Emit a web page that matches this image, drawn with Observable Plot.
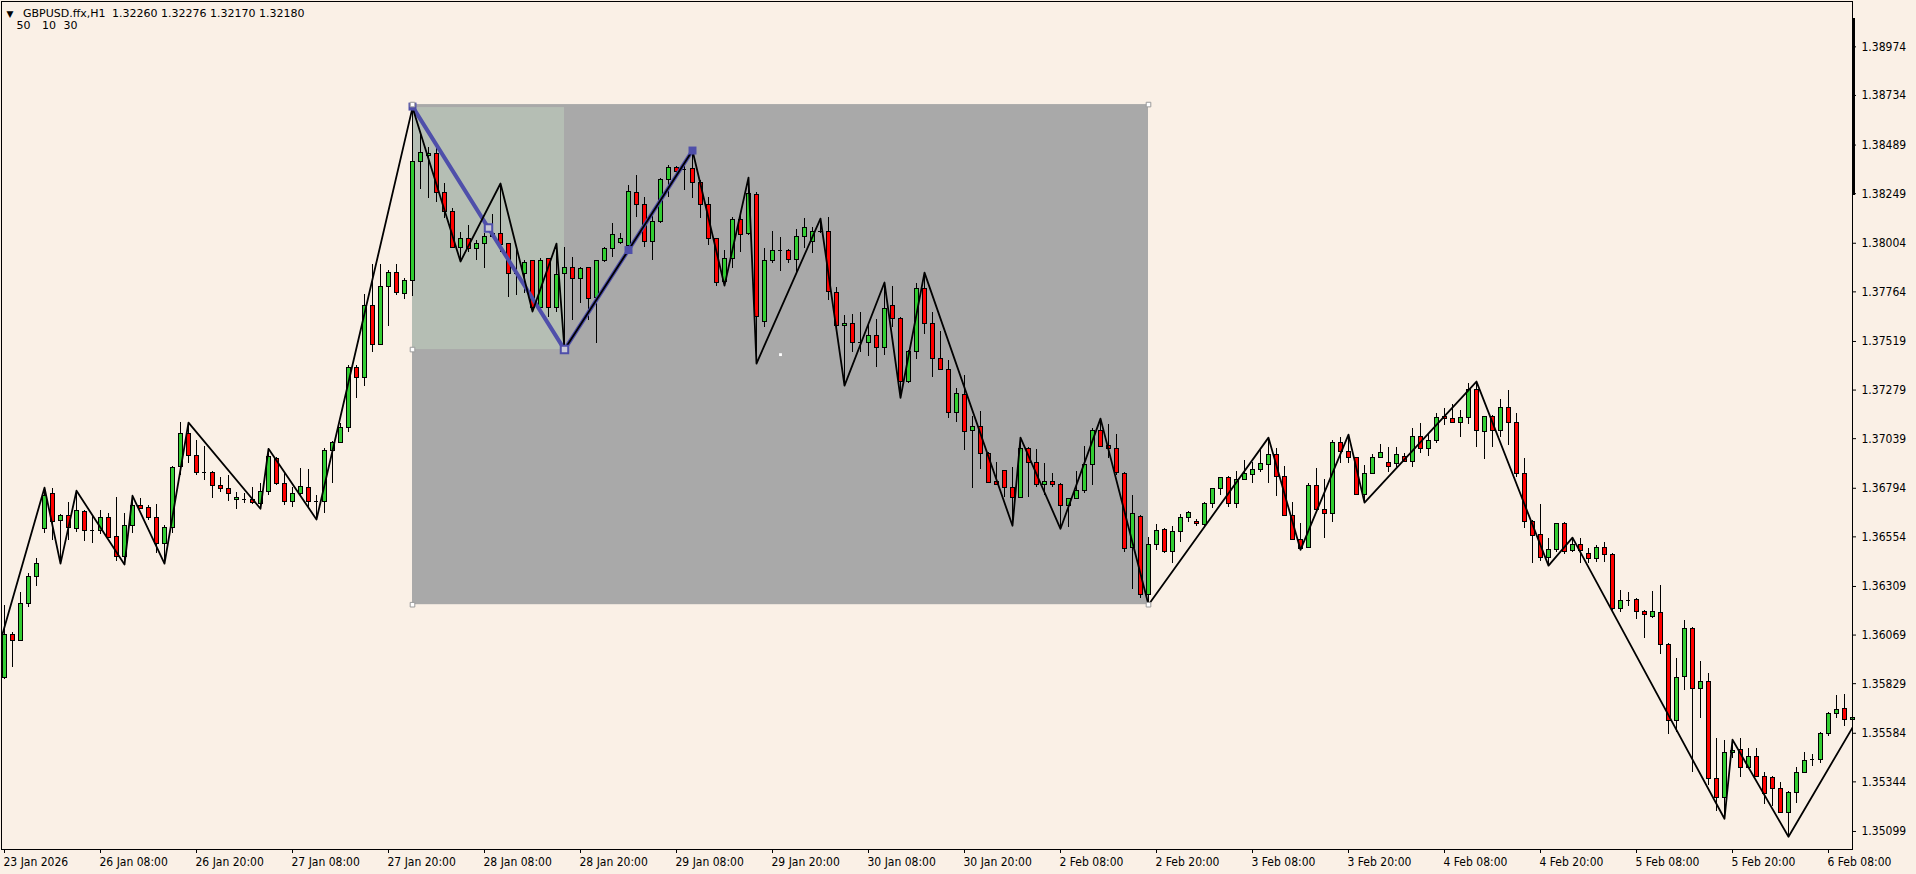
<!DOCTYPE html>
<html><head><meta charset="utf-8">
<script src="https://cdn.jsdelivr.net/npm/d3@7"></script>
<script src="https://cdn.jsdelivr.net/npm/@observablehq/plot@0.6"></script>
<style>
html,body{margin:0;padding:0;background:#FAF0E6;overflow:hidden;}
#chart{position:absolute;left:0;top:0;}
</style></head><body><div id="chart"></div>
<script>
// ---- data (GBPUSD H1) ----
const openP = [
1.35858,1.36071,1.36041,1.36224,1.36357,1.36594,1.36767,1.36634,1.36659,1.36594,
1.36679,1.36585,1.36585,1.36649,1.36555,1.36456,1.36609,1.36708,1.36698,1.36649,
1.36520,1.36599,1.36901,1.37064,1.36955,1.36871,1.36871,1.36807,1.36788,1.36738,
1.36738,1.36738,1.36718,1.36777,1.36940,1.36817,1.36728,1.36767,1.36797,1.36728,
1.36728,1.36980,1.37019,1.37093,1.37390,1.37340,1.37696,1.37503,1.37790,1.37859,
1.37755,1.37820,1.38403,1.38437,1.38447,1.38254,1.38156,1.37982,1.38023,1.37977,
1.38002,1.38037,1.38052,1.38002,1.37854,1.37854,1.37914,1.37686,1.37924,1.37686,
1.37854,1.37884,1.37829,1.37884,1.37735,1.37914,1.37977,1.38007,1.37992,1.38254,
1.38195,1.38012,1.38111,1.38314,1.38378,1.38369,1.38369,1.38304,1.38195,1.38023,
1.37815,1.37928,1.38121,1.38052,1.38244,1.37617,1.37914,1.37968,1.37968,1.37919,
1.38037,1.38012,1.38062,1.38062,1.37760,1.37597,1.37607,1.37513,1.37513,1.37548,
1.37488,1.37696,1.37632,1.37321,1.37469,1.37780,1.37607,1.37430,1.37380,1.37168,
1.37256,1.37079,1.37098,1.36965,1.36827,1.36881,1.36797,1.36747,1.36989,1.36921,
1.36812,1.36827,1.36812,1.36708,1.36742,1.36782,1.36911,1.37079,1.37004,1.36989,
1.36866,1.36500,1.36654,1.36268,1.36515,1.36590,1.36481,1.36580,1.36649,1.36629,
1.36614,1.36718,1.36788,1.36846,1.36718,1.36837,1.36861,1.36886,1.36911,1.36960,
1.36851,1.36659,1.36540,1.36500,1.36807,1.36689,1.36669,1.37019,1.36975,1.36945,
1.36762,1.36866,1.36945,1.36921,1.36916,1.36950,1.36926,1.37049,1.36989,1.37029,
1.37148,1.37138,1.37118,1.37143,1.37281,1.37074,1.37148,1.37079,1.37188,1.37118,
1.36866,1.36629,1.36565,1.36451,1.36490,1.36619,1.36486,1.36515,1.36471,1.36446,
1.36500,1.36466,1.36199,1.36239,1.36244,1.36185,1.36160,1.36180,1.36021,1.35646,
1.35863,1.36101,1.35804,1.35839,1.35360,1.35266,1.35488,1.35503,1.35414,1.35469,
1.35370,1.35365,1.35310,1.35192,1.35291,1.35389,1.35454,1.35454,1.35582,1.35681,
1.35705,1.35651];
const highP = [
1.36214,1.36081,1.36278,1.36372,1.36446,1.36797,1.36792,1.36664,1.36723,1.36782,
1.36684,1.36659,1.36684,1.36669,1.36747,1.36669,1.36757,1.36742,1.36708,1.36713,
1.36609,1.36901,1.37118,1.37118,1.37029,1.36999,1.36876,1.36846,1.36856,1.36772,
1.36767,1.36797,1.36817,1.36989,1.36945,1.36866,1.36797,1.36891,1.36886,1.36757,
1.36989,1.37024,1.37113,1.37400,1.37400,1.37750,1.37899,1.37899,1.37869,1.37899,
1.37829,1.38674,1.38541,1.38476,1.38471,1.38299,1.38175,1.38057,1.38091,1.38017,
1.38052,1.38146,1.38299,1.38002,1.37968,1.37919,1.37919,1.37928,1.37928,1.38002,
1.37982,1.37933,1.37884,1.37884,1.37919,1.37982,1.38101,1.38052,1.38289,1.38338,
1.38229,1.38151,1.38323,1.38388,1.38383,1.38403,1.38462,1.38314,1.38229,1.38027,
1.37968,1.38131,1.38151,1.38328,1.38254,1.37977,1.38062,1.38032,1.37973,1.38072,
1.38126,1.38081,1.38126,1.38131,1.37785,1.37647,1.37652,1.37662,1.37607,1.37628,
1.37810,1.37790,1.37637,1.37474,1.37805,1.37859,1.37662,1.37568,1.37425,1.37286,
1.37350,1.37148,1.37173,1.36970,1.36921,1.36881,1.36896,1.37044,1.36994,1.36984,
1.36916,1.36866,1.36817,1.36742,1.36876,1.36999,1.37088,1.37138,1.37108,1.37059,
1.36871,1.36757,1.36659,1.36550,1.36614,1.36594,1.36604,1.36664,1.36679,1.36640,
1.36723,1.36792,1.36846,1.36851,1.36876,1.36931,1.36921,1.36989,1.37044,1.36989,
1.36901,1.36723,1.36619,1.36817,1.36891,1.36837,1.37029,1.37044,1.37059,1.36945,
1.36906,1.36960,1.37009,1.36994,1.36994,1.36965,1.37088,1.37113,1.37064,1.37163,
1.37188,1.37207,1.37178,1.37311,1.37321,1.37148,1.37153,1.37232,1.37276,1.37163,
1.36940,1.36634,1.36713,1.36545,1.36619,1.36624,1.36550,1.36545,1.36495,1.36510,
1.36525,1.36471,1.36288,1.36278,1.36249,1.36190,1.36283,1.36313,1.36026,1.35953,
1.36140,1.36106,1.35938,1.35878,1.35557,1.35547,1.35552,1.35557,1.35508,1.35508,
1.35389,1.35370,1.35340,1.35296,1.35414,1.35488,1.35478,1.35587,1.35686,1.35770,
1.35775,1.35705];
const lowP = [
1.35849,1.35908,1.36035,1.36204,1.36308,1.36570,1.36535,1.36422,1.36535,1.36575,
1.36530,1.36520,1.36565,1.36545,1.36432,1.36417,1.36570,1.36689,1.36634,1.36471,
1.36422,1.36570,1.36856,1.36916,1.36856,1.36832,1.36742,1.36772,1.36728,1.36689,
1.36718,1.36713,1.36693,1.36757,1.36807,1.36708,1.36698,1.36757,1.36693,1.36640,
1.36669,1.36817,1.37014,1.37069,1.37236,1.37296,1.37464,1.37498,1.37592,1.37745,
1.37726,1.37740,1.38270,1.38224,1.38205,1.38126,1.37977,1.37914,1.37958,1.37919,
1.37879,1.38032,1.37958,1.37735,1.37745,1.37755,1.37667,1.37672,1.37637,1.37662,
1.37479,1.37622,1.37706,1.37622,1.37508,1.37909,1.37933,1.37997,1.37953,1.38131,
1.37982,1.37919,1.38101,1.38229,1.38338,1.38264,1.38224,1.38126,1.37992,1.37790,
1.37795,1.37879,1.37958,1.38042,1.37410,1.37587,1.37904,1.37864,1.37904,1.37859,
1.37977,1.37953,1.38052,1.37721,1.37587,1.37301,1.37464,1.37464,1.37444,1.37390,
1.37449,1.37587,1.37241,1.37311,1.37430,1.37553,1.37340,1.37375,1.37138,1.37118,
1.36980,1.36792,1.36886,1.36817,1.36807,1.36747,1.36609,1.36742,1.36747,1.36797,
1.36757,1.36797,1.36594,1.36599,1.36742,1.36767,1.36807,1.36994,1.36940,1.36856,
1.36476,1.36293,1.36249,1.36219,1.36486,1.36471,1.36422,1.36525,1.36624,1.36604,
1.36599,1.36693,1.36757,1.36698,1.36693,1.36832,1.36817,1.36871,1.36817,1.36752,
1.36654,1.36540,1.36490,1.36495,1.36674,1.36545,1.36624,1.36916,1.36916,1.36757,
1.36723,1.36861,1.36940,1.36871,1.36896,1.36921,1.36896,1.36965,1.36950,1.37014,
1.37103,1.37113,1.37044,1.37108,1.36994,1.36936,1.36994,1.37044,1.37004,1.36846,
1.36594,1.36422,1.36432,1.36412,1.36476,1.36466,1.36476,1.36422,1.36422,1.36427,
1.36427,1.36190,1.36180,1.36209,1.36145,1.36051,1.36150,1.35972,1.35577,1.35587,
1.35794,1.35389,1.35656,1.35325,1.35197,1.35162,1.35459,1.35365,1.35409,1.35365,
1.35231,1.35221,1.35192,1.35073,1.35236,1.35384,1.35419,1.35434,1.35567,1.35656,
1.35617,1.35572];
const closeP = [
1.36071,1.36041,1.36224,1.36357,1.36422,1.36757,1.36629,1.36659,1.36599,1.36684,
1.36585,1.36585,1.36649,1.36550,1.36456,1.36609,1.36708,1.36693,1.36649,1.36520,
1.36599,1.36896,1.37064,1.36955,1.36871,1.36871,1.36807,1.36792,1.36767,1.36747,
1.36738,1.36723,1.36777,1.36950,1.36817,1.36728,1.36767,1.36802,1.36728,1.36728,
1.36980,1.37019,1.37093,1.37390,1.37340,1.37696,1.37503,1.37790,1.37859,1.37760,
1.37820,1.38403,1.38452,1.38447,1.38254,1.38156,1.37982,1.38023,1.37977,1.38002,
1.38037,1.38052,1.37997,1.37854,1.37854,1.37909,1.37686,1.37914,1.37686,1.37849,
1.37884,1.37829,1.37879,1.37730,1.37914,1.37977,1.38047,1.38023,1.38259,1.38195,
1.38012,1.38111,1.38314,1.38378,1.38358,1.38369,1.38304,1.38195,1.38023,1.37810,
1.37928,1.38121,1.38047,1.38249,1.37642,1.37914,1.37968,1.37968,1.37919,1.38037,
1.38081,1.38062,1.38062,1.37765,1.37597,1.37607,1.37513,1.37513,1.37548,1.37488,
1.37681,1.37632,1.37321,1.37469,1.37780,1.37607,1.37430,1.37380,1.37168,1.37261,
1.37074,1.37098,1.36965,1.36822,1.36812,1.36797,1.36747,1.36989,1.36921,1.36812,
1.36827,1.36812,1.36708,1.36742,1.36782,1.36911,1.37079,1.36999,1.36989,1.36871,
1.36495,1.36669,1.36268,1.36515,1.36585,1.36481,1.36580,1.36649,1.36674,1.36619,
1.36718,1.36788,1.36846,1.36718,1.36837,1.36866,1.36886,1.36916,1.36960,1.36851,
1.36659,1.36540,1.36495,1.36807,1.36689,1.36669,1.37019,1.36975,1.36945,1.36762,
1.36866,1.36945,1.36970,1.36901,1.36960,1.36926,1.37049,1.36989,1.37029,1.37143,
1.37138,1.37118,1.37143,1.37281,1.37079,1.37148,1.37079,1.37188,1.37118,1.36866,
1.36629,1.36560,1.36451,1.36490,1.36619,1.36481,1.36515,1.36486,1.36446,1.36500,
1.36466,1.36199,1.36239,1.36239,1.36185,1.36170,1.36185,1.36021,1.35646,1.35858,
1.36101,1.35804,1.35839,1.35360,1.35266,1.35488,1.35498,1.35414,1.35469,1.35370,
1.35286,1.35310,1.35192,1.35291,1.35389,1.35449,1.35454,1.35582,1.35681,1.35701,
1.35651,1.35661];

// zigzag indicator vertices (bar index, price)
const zigzagIndex = [-3,5,7,9,15,16,20,23,32,33,39,51,57,62,66,69,70,86,90,93,94,102,105,110,112,115,126,127,132,137,143,158,162,168,170,184,193,196,215,216,223,231];
const zigzagPrice = [1.35696,1.36797,1.36422,1.36782,1.36417,1.36757,1.36422,1.37118,1.36693,1.36989,1.36640,1.38674,1.37914,1.38299,1.37667,1.38002,1.37479,1.38462,1.37795,1.38328,1.37410,1.38126,1.37301,1.37810,1.37241,1.37859,1.36609,1.37044,1.36594,1.37138,1.36219,1.37044,1.36490,1.37059,1.36723,1.37321,1.36412,1.36550,1.35162,1.35552,1.35073,1.35612];

// drawn objects
const trendIndex = [51, 70, 86];
const trendPrice = [1.38679, 1.37479, 1.38462];
const rectIndex = [51, 143];
const rectPrice = [1.38689, 1.36219];
const innerRectIndex = [51, 70];
const innerRectPrice = [1.38674, 1.37479];
const cursorIndex = [97];
const cursorPrice = [1.37454];
const scaleBarPrice = [1.39114, 1.38240];

// axes
const yTicks = [1.38974,1.38734,1.38489,1.38249,1.38004,1.37764,1.37519,1.37279,1.37039,1.36794,1.36554,1.36309,1.36069,1.35829,1.35584,1.35344,1.35099];
const xTickIndex = [0,12,24,36,48,60,72,84,96,108,120,132,144,156,168,180,192,204,216,228];
const xTickLabels = ["23 Jan 2026","26 Jan 08:00","26 Jan 20:00","27 Jan 08:00","27 Jan 20:00","28 Jan 08:00","28 Jan 20:00","29 Jan 08:00","29 Jan 20:00","30 Jan 08:00","30 Jan 20:00","2 Feb 08:00","2 Feb 20:00","3 Feb 08:00","3 Feb 20:00","4 Feb 08:00","4 Feb 20:00","5 Feb 08:00","5 Feb 20:00","6 Feb 08:00"];
const headerSymbol = "GBPUSD.ffx,H1";
const headerQuotes = "1.32260 1.32276 1.32170 1.32180";
const headerParams = ["50", "10", "30"];

// ---- build ----
const candles = openP.map((o, i) => ({i, open: o, high: highP[i], low: lowP[i], close: closeP[i]}));
const bulls = candles.filter(d => d.close > d.open);
const bears = candles.filter(d => d.close < d.open);
const dojis = candles.filter(d => d.close === d.open);
const zigzag = zigzagIndex.map((x, k) => ({x, y: zigzagPrice[k]}));
const trend = trendIndex.map((x, k) => ({x, y: trendPrice[k]}));
const mid = (a, b) => ({x: (a.x + b.x) / 2, y: (a.y + b.y) / 2});
const outerRect = [{x1: rectIndex[0], x2: rectIndex[1], y1: rectPrice[0], y2: rectPrice[1]}];
const innerRect = [{x1: innerRectIndex[0], x2: innerRectIndex[1], y1: innerRectPrice[0], y2: innerRectPrice[1]}];
const rectCorners = [
  {x: rectIndex[0], y: rectPrice[0]}, {x: rectIndex[1], y: rectPrice[0]},
  {x: rectIndex[0], y: rectPrice[1]}, {x: rectIndex[1], y: rectPrice[1]},
  {x: innerRectIndex[0], y: innerRectPrice[1]}
];
const handlesFilled = [trend[0], mid(trend[1], trend[2]), trend[2]];
const handlesOpen = [mid(trend[0], trend[1]), trend[1]];
const hw = 0.25;
const FONT = "'DejaVu Sans Condensed','DejaVu Sans',sans-serif";
const headerStyle = {frameAnchor: "top-left", textAnchor: "start", lineAnchor: "bottom", fontSize: 11, fontFamily: "DejaVu Sans", fill: "black"};
const paramOffsets = [15, 40.5, 62];

const chart = Plot.plot({
  width: 1916, height: 874,
  marginLeft: 1, marginRight: 64, marginTop: 1, marginBottom: 25,
  style: {background: "#FAF0E6", fontFamily: FONT, fontSize: "12px", color: "#000", overflow: "visible"},
  x: {type: "linear", domain: [-0.375, 231], axis: null},
  y: {type: "linear", domain: [1.35010, 1.39198], axis: null},
  marks: [
    Plot.rect(outerRect, {x1: "x1", x2: "x2", y1: "y1", y2: "y2", fill: "#A9A9A9"}),
    Plot.rect(innerRect, {x1: "x1", x2: "x2", y1: "y1", y2: "y2", fill: "#B5BEB4"}),
    Plot.ruleX(candles, {x: "i", y1: "low", y2: "high", stroke: "black", strokeWidth: 1, shapeRendering: "crispEdges"}),
    Plot.rect(bulls, {x1: d => d.i - hw, x2: d => d.i + hw, y1: "open", y2: "close", fill: "#32CD32", stroke: "black", strokeWidth: 1, shapeRendering: "crispEdges"}),
    Plot.rect(bears, {x1: d => d.i - hw, x2: d => d.i + hw, y1: "open", y2: "close", fill: "#FF0000", stroke: "black", strokeWidth: 1, shapeRendering: "crispEdges"}),
    Plot.ruleY(dojis, {y: "open", x1: d => d.i - hw, x2: d => d.i + hw, stroke: "black", strokeWidth: 1, shapeRendering: "crispEdges"}),
    Plot.line(trend, {x: "x", y: "y", stroke: "#4F4FAA", strokeWidth: 4}),
    Plot.line(zigzag, {x: "x", y: "y", stroke: "black", strokeWidth: 1.8, clip: true}),
    Plot.dot(handlesOpen, {x: "x", y: "y", symbol: "square", r: 4.2, fill: "#C9C9D6", stroke: "#4F4FAA", strokeWidth: 2}),
    Plot.dot(handlesFilled, {x: "x", y: "y", symbol: "square", r: 4.5, fill: "#4F4FAA"}),
    Plot.dot(rectCorners, {x: "x", y: "y", symbol: "square", r: 2.6, fill: "white", stroke: "#9A9A9A", strokeWidth: 1}),
    Plot.dot(cursorIndex.map((x, k) => ({x, y: cursorPrice[k]})), {x: "x", y: "y", symbol: "square", r: 1.6, fill: "white"}),
    Plot.frame({stroke: "black"}),
    Plot.ruleX([{x: 231, y1: scaleBarPrice[0], y2: scaleBarPrice[1]}], {x: "x", y1: "y1", y2: "y2", stroke: "black", strokeWidth: 3, dx: 1}),
    // price axis
    Plot.ruleY(yTicks, {y: d => d, insetLeft: 1851, insetRight: -4, stroke: "black"}),
    Plot.text(yTicks, {y: d => d, text: d => d.toFixed(5), frameAnchor: "right", textAnchor: "start", lineAnchor: "middle", dx: 9, fill: "black", fontSize: 12}),
    // time axis
    Plot.ruleX(xTickIndex, {x: d => d, insetTop: 848, insetBottom: -4, stroke: "black"}),
    Plot.text(xTickIndex, {x: d => d, text: (d, k) => xTickLabels[k], frameAnchor: "bottom", textAnchor: "start", lineAnchor: "middle", dy: 12.5, dx: -1, fill: "black", fontSize: 12}),
    // header
    Plot.text(["\u25BC"], {...headerStyle, text: d => d, dx: 5, dy: 15, fontSize: 9}),
    Plot.text([headerSymbol], {...headerStyle, text: d => d, dx: 21.5, dy: 15.8}),
    Plot.text([headerQuotes], {...headerStyle, text: d => d, dx: 110.5, dy: 15.8}),
    ...headerParams.map((p, k) => Plot.text([p], {...headerStyle, text: d => d, dx: paramOffsets[k], dy: 27.5}))
  ]
});
document.getElementById("chart").appendChild(chart);
</script>
</body></html>
